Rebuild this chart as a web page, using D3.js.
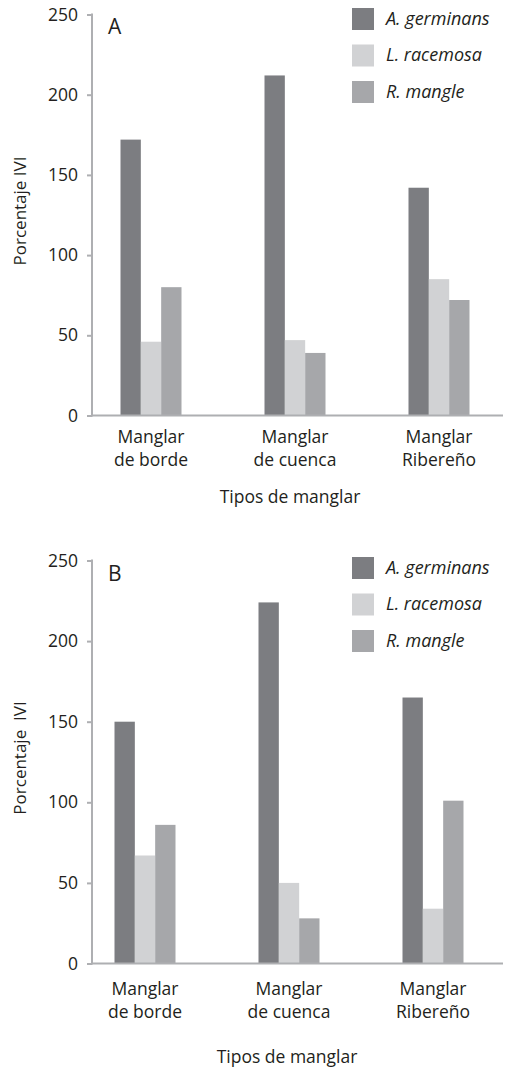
<!DOCTYPE html>
<html>
<head>
<meta charset="utf-8">
<script src="https://cdn.jsdelivr.net/npm/d3@7"></script>
<style>
  body { margin: 0; background: #fff; }
  text { font-family: "Open Sans", sans-serif; fill: #231f20; }
</style>
</head>
<body>
<div id="chart"></div>
<script>
var width = 506,
    height = 1067;

// data
var categories = ["Manglar de borde", "Manglar de cuenca", "Manglar Ribereño"];
var catLines = [["Manglar", "de borde"], ["Manglar", "de cuenca"], ["Manglar", "Ribereño"]];
var species = ["A. germinans", "L. racemosa", "R. mangle"];
var colors = ["#7c7d81", "#d1d2d4", "#a6a7aa"];
var yTicks = [0, 50, 100, 150, 200, 250];

var germinansA = [172, 212, 142],
    racemosaA = [46, 47, 85],
    mangleA = [80, 39, 72];
var germinansB = [150, 224, 165],
    racemosaB = [67, 50, 34],
    mangleB = [86, 28, 101];

var svg = d3.select("#chart")
    .append("svg")
    .attr("width", width)
    .attr("height", height);

var axisColor = "#aeafb2";

function drawPanel(opts) {
    var g = svg.append("g");
    var series = [opts.germinans, opts.racemosa, opts.mangle];

    var y = d3.scaleLinear().domain([0, 250]).range([opts.y0, opts.y250]);
    var x = d3.scalePoint().domain(categories).range(opts.xRange);
    var xInner = d3.scaleBand().domain(species).range([-30.5, 30.5]);

    // bars
    categories.forEach(function(c, ci) {
        g.selectAll(null)
            .data(species)
            .enter()
            .append("rect")
            .attr("x", function(s) { return x(c) + xInner(s); })
            .attr("width", xInner.bandwidth())
            .attr("y", function(s, si) { return y(series[si][ci]); })
            .attr("height", function(s, si) { return y(0) - y(series[si][ci]); })
            .style("fill", function(s, si) { return colors[si]; });
    });

    // y axis
    var yAxis = g.append("g")
        .attr("transform", "translate(92,0)")
        .call(d3.axisLeft(y).tickValues(yTicks).tickSize(5).tickPadding(9));
    yAxis.select(".domain").remove();
    yAxis.selectAll(".tick line").attr("stroke", axisColor).attr("stroke-width", 2);
    yAxis.selectAll(".tick text")
        .style("font-family", "'Open Sans', sans-serif")
        .style("font-size", "17.5px")
        .attr("fill", "#231f20");
    g.append("line")
        .attr("x1", 92).attr("x2", 92)
        .attr("y1", y(250) - 1).attr("y2", y(0) + 1)
        .attr("stroke", axisColor).attr("stroke-width", 2);
    g.append("line")
        .attr("x1", 91).attr("x2", 503)
        .attr("y1", y(0)).attr("y2", y(0))
        .attr("stroke", axisColor).attr("stroke-width", 2);

    // category labels
    categories.forEach(function(c, ci) {
        var t = g.append("text")
            .attr("text-anchor", "middle")
            .attr("x", x(c))
            .attr("y", y(0) + opts.labelOffset)
            .style("font-size", "17.5px");
        catLines[ci].forEach(function(line, li) {
            t.append("tspan")
                .attr("x", x(c))
                .attr("dy", li === 0 ? 0 : 22.5)
                .text(line);
        });
    });

    // axis titles
    g.append("text")
        .attr("text-anchor", "middle")
        .attr("x", opts.titleX)
        .attr("y", y(0) + opts.titleOffset)
        .style("font-size", "17.5px")
        .text("Tipos de manglar");

    g.append("text")
        .attr("text-anchor", "middle")
        .attr("transform", "translate(26," + (y(125) - 4) + ") rotate(-90)")
        .style("font-size", "17px")
        .style("white-space", "pre")
        .text(opts.yTitle);

    // panel letter
    g.append("text")
        .attr("x", 108)
        .attr("y", y(250) + opts.letterDy)
        .style("font-size", "21px")
        .text(opts.letter);

    // legend
    var leg = g.append("g")
        .attr("transform", "translate(352," + (y(250) + opts.legendDy) + ")");
    var item = leg.selectAll("g")
        .data(species)
        .enter()
        .append("g")
        .attr("transform", function(d, i) { return "translate(0," + (i * 36.5) + ")"; });
    item.append("rect")
        .attr("width", 22)
        .attr("height", 22)
        .style("fill", function(d, i) { return colors[i]; });
    item.append("text")
        .attr("x", 34)
        .attr("y", 16.5)
        .style("font-size", "18px")
        .style("font-style", "italic")
        .text(function(d) { return d; });
}

drawPanel({
    germinans: germinansA, racemosa: racemosaA, mangle: mangleA,
    y0: 415.5, y250: 14.5, xRange: [151, 439],
    labelOffset: 27.5, titleOffset: 87.5, titleX: 290,
    yTitle: "Porcentaje IVI", letter: "A", letterDy: 19, legendDy: -6.5
});

drawPanel({
    germinans: germinansB, racemosa: racemosaB, mangle: mangleB,
    y0: 963.5, y250: 560.5, xRange: [145, 433],
    labelOffset: 31.5, titleOffset: 99.5, titleX: 287,
    yTitle: "Porcentaje  IVI", letter: "B", letterDy: 20, legendDy: -3.5
});
</script>
</body>
</html>
